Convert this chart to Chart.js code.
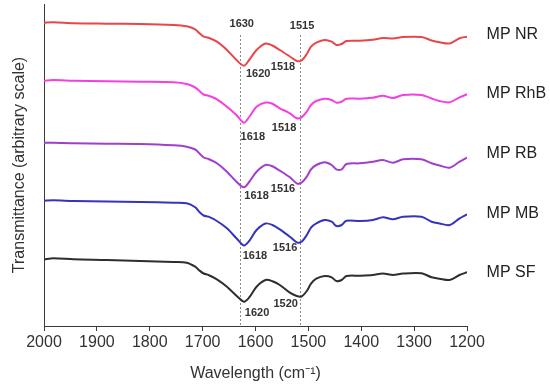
<!DOCTYPE html>
<html>
<head>
<meta charset="utf-8">
<script src="https://cdn.jsdelivr.net/npm/chart.js@4/dist/chart.umd.min.js"></script>
<style>
  html, body { margin: 0; padding: 0; background: #fff; }
  #wrap { width: 550px; height: 385px; }
</style>
</head>
<body>
<div id="wrap"><canvas id="ftir-chart"></canvas></div>
<script>
// wavenumbers (cm-1)
const wavenumbers = [2000, 1982, 1944, 1881, 1818, 1755, 1730, 1714, 1706, 1698, 1689, 1673, 1654, 1636,
  1622, 1612, 1598, 1581, 1568, 1554, 1535, 1522, 1513, 1503, 1495, 1485, 1469, 1456, 1447, 1437, 1428,
  1403, 1378, 1359, 1340, 1321, 1286, 1267, 1252, 1233, 1214, 1200];

// stacked transmittance, arbitrary units
const nrValues = [303.3, 303.7, 302.7, 302.3, 302, 301, 299.7, 296.7, 292.7, 289.3, 288.3, 284.3, 276, 266,
  260.3, 266, 276, 282.5, 280.5, 276, 269.5, 265, 265.5, 272, 279.3, 283.3, 286, 284.3, 281, 282, 285,
  285.3, 286.3, 288, 287.5, 289, 289, 285.5, 283.7, 282.5, 287.7, 289.3];
const rhbValues = [245.3, 246, 245.3, 244.8, 244.3, 243.7, 242, 238.5, 235, 231.5, 230.3, 226.7, 219.3, 211,
  203.3, 209, 219.3, 223.5, 222.3, 217.7, 212.7, 207.7, 208.7, 214.3, 221, 225, 227.3, 226, 223.3, 224.3, 227.3,
  227.3, 228.3, 230.3, 228, 231, 231, 227.5, 225, 223.7, 228.7, 231.7];
const rbValues = [183.3, 183.3, 182.7, 182.3, 182, 180.7, 179.3, 176.5, 172.5, 168.5, 167, 162.7, 154.3, 144.3,
  138.7, 144, 154.3, 161, 159.7, 155.3, 148.7, 142.7, 143.3, 149.3, 156.7, 161, 163.7, 161, 156.7, 156.7, 162,
  162.7, 164.3, 166, 163.3, 166.7, 166.7, 162.7, 160.5, 158.3, 164.3, 168.3];
const mbValues = [125.3, 125.7, 125, 124.5, 124, 123.2, 122.7, 118.7, 114, 110.5, 109.3, 105, 97.7, 87.7,
  80.5, 85, 96, 102.5, 101, 96.7, 89.3, 83.7, 84.3, 91, 98.3, 102.7, 106, 104.3, 100, 101, 105.3,
  105, 106, 108.7, 106.7, 109.3, 109.3, 104.3, 102.5, 101, 107.7, 111.7];
const sfValues = [66.7, 67.7, 66.7, 66, 65, 64, 63.3, 59.3, 55.5, 52.5, 51, 46.7, 39.3, 30.3,
  24.3, 28.5, 39.3, 46, 44.8, 41, 33.3, 30, 29.5, 35, 42.3, 47.3, 50, 48.7, 45, 46, 50,
  50.3, 51, 52.5, 51, 52.5, 52.7, 48.7, 47.3, 46, 51, 53.7];

const seriesNames = ['MP NR', 'MP RhB', 'MP RB', 'MP MB', 'MP SF'];
const seriesValues = [nrValues, rhbValues, rbValues, mbValues, sfValues];
const seriesColors = ['#e8474a', '#f53fe0', '#a03fcc', '#3434bc', '#2e2e2e'];
const nameLevels = [291, 232, 172, 112, 53];

const xTicks = [2000, 1900, 1800, 1700, 1600, 1500, 1400, 1300, 1200];

// dotted reference lines and peak labels
const refLines = [1630, 1515];
const refLineTop = 291;
const peakLabels = [
  ['1630', 1626, 302], ['1515', 1512, 300],
  ['1620', 1595, 252], ['1518', 1548, 258.7],
  ['1618', 1605, 189.5], ['1518', 1546, 197.7],
  ['1618', 1598, 130], ['1516', 1548, 136.8],
  ['1618', 1601, 70.5], ['1516', 1544, 78.3],
  ['1520', 1543, 22.3], ['1620', 1597, 12.7],
];

const FONT = 'Liberation Sans, Arial, sans-serif';

const overlay = {
  id: 'overlay',
  beforeDatasetsDraw(chart) {
    const { ctx, scales: { x, y } } = chart;
    ctx.save();
    ctx.strokeStyle = '#8a8a8a';
    ctx.lineWidth = 1;
    ctx.setLineDash([2, 2]);
    refLines.forEach(w => {
      const px = Math.round(x.getPixelForValue(w)) + 0.5;
      ctx.beginPath();
      ctx.moveTo(px, y.getPixelForValue(refLineTop));
      ctx.lineTo(px, y.getPixelForValue(0));
      ctx.stroke();
    });
    ctx.restore();
  },
  afterDatasetsDraw(chart) {
    const { ctx, scales: { x, y } } = chart;
    ctx.save();
    ctx.fillStyle = '#333';
    ctx.textAlign = 'center';
    ctx.textBaseline = 'middle';
    ctx.font = 'bold 11px ' + FONT;
    peakLabels.forEach(([t, w, v]) => {
      ctx.fillText(t, x.getPixelForValue(w), y.getPixelForValue(v));
    });
    ctx.font = '16px ' + FONT;
    ctx.fillStyle = '#222';
    ctx.textAlign = 'left';
    seriesNames.forEach((name, i) => {
      ctx.fillText(name, x.getPixelForValue(1163), y.getPixelForValue(nameLevels[i]));
    });
    ctx.restore();
  },
};

function loadChart() {
  const ctx = document.getElementById('ftir-chart').getContext('2d');
  new Chart(ctx, {
    type: 'line',
    data: {
      datasets: seriesNames.map((name, i) => ({
        label: name,
        data: wavenumbers.map((w, j) => ({ x: w, y: seriesValues[i][j] })),
        borderColor: seriesColors[i],
        borderWidth: 2,
        pointRadius: 0,
        tension: 0.3,
        fill: false,
      })),
    },
    options: {
      responsive: true,
      maintainAspectRatio: false,
      animation: false,
      layout: { padding: { top: 4, right: 83, bottom: 0, left: 0 } },
      plugins: {
        legend: { display: false },
        tooltip: { enabled: false },
      },
      scales: {
        x: {
          type: 'linear',
          reverse: true,
          min: 1200,
          max: 2000,
          afterBuildTicks: s => { s.ticks = xTicks.map(v => ({ value: v })); },
          afterFit: s => { s.height = 59; },
          ticks: {
            color: '#333',
            font: { family: FONT, size: 16 },
            padding: 2,
            maxRotation: 0,
            callback: v => String(v),
          },
          grid: { drawOnChartArea: false, drawTicks: true, tickLength: 5, color: '#3a3a3a' },
          border: { display: true, color: '#3a3a3a', width: 1 },
          title: {
            display: true,
            text: 'Wavelength (cm\u207B\u00B9)',
            color: '#333',
            font: { family: FONT, size: 16 },
            padding: { top: 0, bottom: 2 },
          },
        },
        y: {
          min: 0,
          max: 322,
          afterFit: s => { s.width = 44; },
          ticks: { display: false },
          grid: { display: false },
          border: { display: true, color: '#3a3a3a', width: 1 },
          title: {
            display: true,
            text: 'Transmittance (arbitrary scale)',
            color: '#333',
            font: { family: FONT, size: 16 },
            padding: { top: 10, bottom: 0 },
          },
        },
      },
    },
    plugins: [overlay],
  });
}

window.onload = loadChart;
</script>
</body>
</html>
